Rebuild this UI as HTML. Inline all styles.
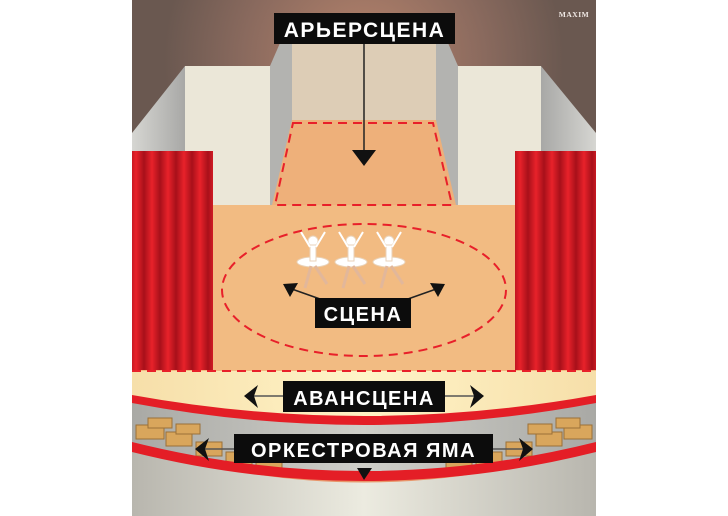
<!DOCTYPE html>
<html><head><meta charset="utf-8"><style>
html,body{margin:0;padding:0;background:#fff}
svg{display:block}
text{font-family:"Liberation Sans","DejaVu Sans",sans-serif;font-weight:bold;fill:#fff}
</style></head><body>
<svg width="728" height="516" viewBox="0 0 728 516" xmlns="http://www.w3.org/2000/svg">
<defs>
<radialGradient id="glow" cx="364" cy="60" r="200" gradientUnits="userSpaceOnUse">
<stop offset="0" stop-color="#b8846c"/><stop offset="0.6" stop-color="#8a6a5e"/><stop offset="1" stop-color="#6a5850"/></radialGradient>
<linearGradient id="cur" x1="0" x2="16" y1="0" y2="0" gradientUnits="userSpaceOnUse" spreadMethod="repeat">
<stop offset="0" stop-color="#a8101a"/><stop offset="0.5" stop-color="#e8222a"/><stop offset="1" stop-color="#a8101a"/></linearGradient>
<linearGradient id="sideL" x1="0" x2="1"><stop offset="0" stop-color="#d6d6d2"/><stop offset="1" stop-color="#a8a8a6"/></linearGradient>
<linearGradient id="sideR" x1="1" x2="0"><stop offset="0" stop-color="#d6d6d2"/><stop offset="1" stop-color="#a8a8a6"/></linearGradient>
<linearGradient id="pit" x1="0" x2="1"><stop offset="0" stop-color="#a9a9a5"/><stop offset="0.5" stop-color="#cfcfc9"/><stop offset="1" stop-color="#a9a9a5"/></linearGradient>
<linearGradient id="wall" x1="0" x2="1"><stop offset="0" stop-color="#b8b6ae"/><stop offset="0.5" stop-color="#ecebe0"/><stop offset="1" stop-color="#b8b6ae"/></linearGradient>
<radialGradient id="fore" cx="364" cy="380" r="240" gradientUnits="userSpaceOnUse"><stop offset="0" stop-color="#fff4c8"/><stop offset="1" stop-color="#f6dea8"/></radialGradient>
</defs>
<rect x="132" y="0" width="464" height="516" fill="url(#glow)"/>
<polygon points="132,133 185,66 185,205 132,205" fill="url(#sideL)"/>
<polygon points="596,133 541,66 541,205 596,205" fill="url(#sideR)"/>
<rect x="185" y="66" width="85" height="139" fill="#ebe7d8"/>
<rect x="458" y="66" width="83" height="139" fill="#ebe7d8"/>
<polygon points="270,66 280,43 292,43 292,205 270,205" fill="#b3b3b0"/>
<polygon points="458,66 448,43 436,43 436,205 458,205" fill="#b3b3b0"/>
<rect x="292" y="43" width="144" height="80" fill="#ddcdb6"/>
<polygon points="292,120 436,120 456,205 272,205" fill="#eeb07a"/>
<rect x="132" y="205" width="464" height="170" fill="#f2bb82"/>
<polygon points="293,123 433,123 452,205 275,205" fill="none" stroke="#e8202a" stroke-width="2" stroke-dasharray="9,6"/>
<ellipse cx="364" cy="290" rx="142" ry="66" fill="none" stroke="#e8202a" stroke-width="2" stroke-dasharray="9,6"/>
<rect x="132" y="151" width="81" height="219" fill="url(#cur)"/>
<rect x="515" y="151" width="81" height="219" fill="url(#cur)"/>
<g fill="#fff" stroke="#e9d2b8" stroke-width="1">
<g transform="translate(313,0)"><circle cx="0" cy="241" r="5"/><ellipse cx="0" cy="262" rx="16" ry="5"/><rect x="-3" y="245" width="6" height="16"/><path d="M-3,247 L-12,232 M3,247 L12,232" stroke="#fff" stroke-width="2"/><path d="M-2,266 L-8,288 M2,266 L14,284" stroke="#e2b79a" stroke-width="3"/></g>
<g transform="translate(351,0)"><circle cx="0" cy="241" r="5"/><ellipse cx="0" cy="262" rx="16" ry="5"/><rect x="-3" y="245" width="6" height="16"/><path d="M-3,247 L-12,232 M3,247 L12,232" stroke="#fff" stroke-width="2"/><path d="M-2,266 L-8,288 M2,266 L14,284" stroke="#e2b79a" stroke-width="3"/></g>
<g transform="translate(389,0)"><circle cx="0" cy="241" r="5"/><ellipse cx="0" cy="262" rx="16" ry="5"/><rect x="-3" y="245" width="6" height="16"/><path d="M-3,247 L-12,232 M3,247 L12,232" stroke="#fff" stroke-width="2"/><path d="M-2,266 L-8,288 M2,266 L14,284" stroke="#e2b79a" stroke-width="3"/></g>
</g>
<rect x="132" y="440" width="464" height="76" fill="#e8956a"/>
<path d="M132,445 Q364,520 596,445 L596,516 L132,516 Z" fill="url(#wall)"/>
<path d="M132,398 Q364,440 596,398 L596,445 Q364,505 132,445 Z" fill="url(#pit)"/>
<g fill="#d9a65c" stroke="#9a7038" stroke-width="1">
<rect x="136" y="425" width="28" height="14"/><rect x="166" y="432" width="26" height="14"/><rect x="196" y="442" width="26" height="14"/><rect x="226" y="452" width="26" height="14"/><rect x="256" y="460" width="26" height="12"/>
<rect x="148" y="418" width="24" height="10"/><rect x="176" y="424" width="24" height="10"/>
<rect x="564" y="425" width="28" height="14"/><rect x="536" y="432" width="26" height="14"/><rect x="506" y="442" width="26" height="14"/><rect x="476" y="452" width="26" height="14"/><rect x="446" y="460" width="26" height="12"/>
<rect x="556" y="418" width="24" height="10"/><rect x="528" y="424" width="24" height="10"/>
</g>
<path d="M132,442 Q364,500 596,442 L596,452 Q364,510 132,452 Z" fill="#e41e26"/>
<path d="M132,371 L596,371 L596,398 Q364,440 132,398 Z" fill="url(#fore)"/>
<path d="M132,395 Q364,437 596,395 L596,403 Q364,447 132,403 Z" fill="#e41e26"/>
<line x1="132" y1="371" x2="596" y2="371" stroke="#e8202a" stroke-width="2" stroke-dasharray="9,6"/>
<g stroke="#222" stroke-width="1.5" fill="#111">
<line x1="364" y1="44" x2="364" y2="158"/>
<polygon points="352,150 376,150 364,166" stroke="none"/>
<line x1="337" y1="305" x2="289" y2="288"/><polygon points="283,284 298,283 290,297" stroke="none"/>
<line x1="391" y1="305" x2="439" y2="288"/><polygon points="445,284 430,283 438,297" stroke="none"/>
<line x1="250" y1="396" x2="478" y2="396" stroke="#555"/>
<polygon points="244,396 258,385 254,396 258,408" stroke="none"/>
<polygon points="484,396 470,385 474,396 470,408" stroke="none"/>
<line x1="200" y1="449" x2="528" y2="449" stroke="#555"/>
<polygon points="195,449 209,438 205,449 209,461" stroke="none"/>
<polygon points="533,449 519,438 523,449 519,461" stroke="none"/>
<polygon points="357,468 372,468 364,480" stroke="none"/>
</g>
<rect x="274" y="13" width="181" height="31" fill="#0c0c0c"/>
<text x="364.5" y="37" font-size="21" text-anchor="middle" letter-spacing="1.5">АРЬЕРСЦЕНА</text>
<rect x="315" y="298" width="96" height="30" fill="#0c0c0c"/>
<text x="363" y="321" font-size="20" text-anchor="middle" letter-spacing="1.5">СЦЕНА</text>
<rect x="283" y="381" width="162" height="31" fill="#0c0c0c"/>
<text x="364" y="405" font-size="20" text-anchor="middle" letter-spacing="1.5">АВАНСЦЕНА</text>
<rect x="234" y="434" width="259" height="29" fill="#0c0c0c"/>
<text x="363.5" y="457" font-size="20" text-anchor="middle" letter-spacing="1.5">ОРКЕСТРОВАЯ ЯМА</text>
<text x="574" y="17" font-size="7.5" text-anchor="middle" style="font-family:'Liberation Serif',serif;fill:#f0e8e4" letter-spacing="0.5">MAXIM</text>
</svg>
</body></html>
